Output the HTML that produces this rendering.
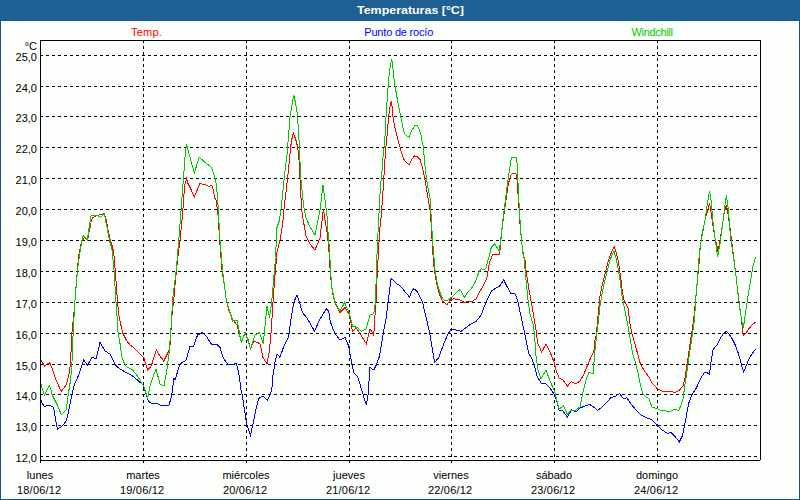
<!DOCTYPE html>
<html><head><meta charset="utf-8"><style>
html,body{margin:0;padding:0;}
body{width:800px;height:500px;overflow:hidden;position:relative;background:#fcfefc;font-family:"Liberation Sans",sans-serif;}
#hdr{position:absolute;left:0;top:0;width:800px;height:20px;background:#1e5f94;}
#hdr2{position:absolute;left:0;top:20px;width:800px;height:1px;background:#125a92;}
#bl{position:absolute;left:0;top:20px;width:1px;height:480px;background:#0b5591;}
#br{position:absolute;left:799px;top:20px;width:1px;height:480px;background:#0b5591;}
#bb{position:absolute;left:0;top:499px;width:800px;height:1px;background:#0b5591;}
#wl{position:absolute;left:1px;top:21px;width:1px;height:478px;background:#fff;}
#wr{position:absolute;left:798px;top:21px;width:1px;height:478px;background:#fff;}
#wb{position:absolute;left:1px;top:498px;width:798px;height:1px;background:#fff;}
#wt{position:absolute;left:1px;top:21px;width:798px;height:1px;background:#fff;}
#title{position:absolute;left:0;top:3px;width:821px;text-align:center;color:#fff;font-weight:bold;font-size:11px;line-height:14px;transform:scaleX(1.13);transform-origin:410.5px 0;}
.lg{position:absolute;top:26px;font-size:11px;line-height:13px;white-space:nowrap;}
.yl{position:absolute;left:0;width:37px;text-align:right;font-size:11px;line-height:9px;color:#000;white-space:nowrap;}
.xl{position:absolute;width:80px;text-align:center;font-size:11px;line-height:13px;color:#000;white-space:nowrap;}
svg{position:absolute;left:0;top:0;}
</style></head><body>
<div id="hdr"></div><div id="hdr2"></div><div id="bl"></div><div id="br"></div><div id="bb"></div><div id="wl"></div><div id="wt"></div><div id="wr"></div><div id="wb"></div>
<div id="title">Temperaturas [°C]</div>
<div class="lg" style="left:131px;color:#ff0000;letter-spacing:0.2px">Temp.</div>
<div class="lg" style="left:364.3px;color:#0000ff;letter-spacing:-0.2px">Punto de rocío</div>
<div class="lg" style="left:631.5px;color:#00c800;letter-spacing:-0.33px">Windchill</div>
<div class="yl" style="top:42px">°C</div>
<div class="yl" style="top:53px">25,0</div><div class="yl" style="top:84px">24,0</div><div class="yl" style="top:114px">23,0</div><div class="yl" style="top:145px">22,0</div><div class="yl" style="top:176px">21,0</div><div class="yl" style="top:207px">20,0</div><div class="yl" style="top:238px">19,0</div><div class="yl" style="top:269px">18,0</div><div class="yl" style="top:300px">17,0</div><div class="yl" style="top:331px">16,0</div><div class="yl" style="top:362px">15,0</div><div class="yl" style="top:392px">14,0</div><div class="yl" style="top:423px">13,0</div><div class="yl" style="top:454px">12,0</div>
<div class="xl" style="left:0px;top:469px">lunes</div><div class="xl" style="left:-0.7999999999999972px;top:484px;letter-spacing:0.2px">18/06/12</div><div class="xl" style="left:103px;top:469px">martes</div><div class="xl" style="left:102.2px;top:484px;letter-spacing:0.2px">19/06/12</div><div class="xl" style="left:206px;top:469px">miércoles</div><div class="xl" style="left:205.2px;top:484px;letter-spacing:0.2px">20/06/12</div><div class="xl" style="left:309px;top:469px">jueves</div><div class="xl" style="left:308.2px;top:484px;letter-spacing:0.2px">21/06/12</div><div class="xl" style="left:411px;top:469px">viernes</div><div class="xl" style="left:410.2px;top:484px;letter-spacing:0.2px">22/06/12</div><div class="xl" style="left:514px;top:469px">sábado</div><div class="xl" style="left:513.2px;top:484px;letter-spacing:0.2px">23/06/12</div><div class="xl" style="left:617px;top:469px">domingo</div><div class="xl" style="left:616.2px;top:484px;letter-spacing:0.2px">24/06/12</div>
<svg width="800" height="500" viewBox="0 0 800 500" shape-rendering="crispEdges">
<path d="M40 55.5H760M40 86.5H760M40 116.5H760M40 147.5H760M40 178.5H760M40 209.5H760M40 240.5H760M40 271.5H760M40 302.5H760M40 333.5H760M40 364.5H760M40 394.5H760M40 425.5H760M40 456.5H760M143.5 40V460M246.5 40V460M349.5 40V460M451.5 40V460M554.5 40V460M657.5 40V460" stroke="#000" stroke-width="1" stroke-dasharray="3 3" fill="none"/>
<g fill="#000"><rect x="143" y="460" width="1" height="3"/><rect x="246" y="460" width="1" height="3"/><rect x="349" y="460" width="1" height="3"/><rect x="451" y="460" width="1" height="3"/><rect x="554" y="460" width="1" height="3"/><rect x="657" y="460" width="1" height="3"/></g>
<g fill="none" stroke-width="1" shape-rendering="crispEdges">
<polyline stroke="#ff0000" points="40.00,358.75 44.50,366.00 49.50,362.50 52.50,369.00 56.00,380.00 61.30,391.40 65.80,385.40 67.60,380.00 69.50,372.50 70.50,362.50 72.00,332.50 73.75,315.00 75.00,300.00 77.00,275.00 78.75,255.00 81.25,242.50 83.20,239.40 84.00,237.80 85.60,238.20 87.60,240.20 89.20,231.40 90.40,225.80 91.60,219.40 93.20,217.40 95.60,216.20 97.60,215.40 104.00,213.80 105.60,217.00 106.80,223.40 108.00,229.80 109.20,235.40 110.80,241.80 111.25,242.50 113.75,252.50 115.00,267.50 117.00,295.00 118.75,315.00 122.50,332.50 126.25,340.00 130.00,345.00 133.75,347.50 138.75,352.50 143.75,357.50 147.50,370.00 151.25,366.00 156.25,350.00 160.00,356.00 163.75,361.00 168.75,351.00 170.00,345.00 172.00,315.00 173.75,300.00 175.00,285.00 177.50,260.00 180.00,240.00 182.50,215.00 184.70,185.00 186.50,179.00 188.00,183.50 191.00,189.50 194.30,197.00 200.00,183.50 206.00,185.00 209.00,186.50 211.70,185.00 213.50,191.00 215.00,198.50 216.25,200.00 218.00,215.00 220.00,245.00 222.00,270.00 225.00,290.00 226.25,300.00 228.75,310.00 232.50,319.00 237.00,325.00 238.75,332.50 241.25,341.25 245.00,333.75 247.50,337.50 250.50,348.75 253.75,341.25 257.50,342.50 260.00,343.75 263.00,357.50 267.00,363.75 269.50,350.00 271.25,330.00 273.00,302.00 275.00,275.00 277.00,252.50 280.00,240.00 282.50,225.00 284.40,205.00 286.00,192.20 287.60,177.80 289.20,161.80 290.80,145.80 292.40,136.20 293.20,133.00 294.80,137.00 296.20,141.00 297.60,147.00 298.40,152.00 299.20,162.00 300.00,178.00 300.80,194.00 301.60,208.40 302.20,214.00 306.00,236.00 310.00,244.00 315.00,250.00 320.00,238.00 323.40,209.00 326.00,226.00 327.60,236.00 329.00,252.00 330.00,268.00 331.25,282.50 333.00,295.00 335.00,302.50 340.00,312.50 345.00,307.50 349.50,315.00 352.50,331.25 356.25,327.50 360.00,333.75 366.25,343.75 370.00,328.75 373.75,335.00 375.00,315.00 376.00,302.00 376.90,280.80 377.50,268.00 378.50,252.00 379.10,240.80 379.60,229.60 380.70,221.60 381.60,210.40 382.40,200.80 383.20,188.00 384.00,175.20 384.80,162.40 385.60,149.60 386.60,141.00 387.20,133.40 388.10,122.60 389.40,110.00 390.40,104.60 391.20,101.90 391.70,102.80 392.90,116.00 394.70,126.80 396.50,134.00 398.30,141.20 400.10,147.50 401.90,153.80 403.70,159.20 406.40,162.80 409.10,164.60 411.80,159.20 414.50,155.90 417.20,156.50 419.90,159.20 421.70,165.50 422.50,167.50 425.00,180.00 427.50,195.00 430.00,210.00 431.25,225.00 432.50,247.50 433.75,265.00 435.50,277.50 438.75,292.50 442.50,301.25 447.00,304.50 450.50,300.00 453.75,298.75 460.00,300.00 464.50,302.50 468.75,301.25 472.50,301.25 476.25,298.75 480.00,291.25 483.75,285.00 487.00,277.50 489.50,262.50 492.50,255.00 496.25,254.00 499.30,254.50 500.40,246.80 501.50,233.60 503.70,216.00 505.90,200.60 508.10,185.20 510.30,176.40 512.50,173.10 515.80,173.10 516.90,178.60 518.00,194.00 519.10,209.40 520.20,227.00 521.96,244.60 523.50,255.60 525.00,260.00 526.00,270.00 529.00,290.00 532.00,306.00 535.00,324.00 536.00,330.00 537.50,342.50 541.60,352.00 546.00,344.00 550.00,352.00 554.00,362.00 556.00,370.00 559.00,378.00 563.00,380.00 567.40,386.00 571.60,381.60 576.00,384.00 580.00,381.00 584.00,374.00 588.00,364.00 592.00,355.00 593.75,352.00 595.00,340.00 596.25,335.00 598.00,316.00 600.00,296.00 602.00,286.00 604.00,278.00 606.00,270.00 608.00,262.00 610.00,256.00 612.00,251.00 614.40,247.00 616.00,252.00 618.00,260.00 619.60,270.00 621.00,280.00 622.40,292.00 624.00,300.00 626.00,304.00 628.00,308.00 630.00,324.00 632.00,334.00 635.00,344.00 637.30,352.60 640.50,364.20 644.70,371.50 648.90,376.80 652.00,383.00 657.30,388.70 661.50,391.00 670.90,391.50 675.10,392.50 679.30,390.40 680.00,389.60 683.20,385.60 684.80,379.20 693.60,320.00 695.60,300.00 697.60,278.00 699.00,264.00 700.00,250.00 702.00,234.00 705.00,220.00 708.00,209.00 709.60,203.00 711.00,212.00 713.00,226.00 715.00,238.00 717.00,246.00 718.00,252.00 720.00,240.00 722.00,228.00 724.00,214.00 726.40,205.00 728.00,214.00 730.00,228.00 732.00,244.00 734.00,260.00 735.60,272.00 737.60,290.00 739.60,306.00 741.60,320.00 742.60,332.00 743.50,335.40 746.20,332.60 749.20,328.40 752.80,324.20 755.70,322.30"/>
<polyline stroke="#0000ff" points="40.00,400.00 41.00,400.40 42.40,404.00 44.60,406.40 47.20,405.40 49.60,405.40 53.00,406.60 54.40,411.20 55.60,419.60 57.40,429.20 59.20,428.00 61.60,426.80 65.80,421.40 67.60,416.00 69.40,407.60 71.80,395.00 74.20,384.80 78.75,375.00 83.75,360.00 87.50,365.00 92.00,357.50 96.25,358.75 100.00,342.50 105.00,351.00 110.00,354.00 116.25,366.00 120.00,369.00 126.25,372.50 132.50,376.00 137.50,380.00 143.00,385.00 145.00,391.00 148.40,401.00 152.00,404.00 156.00,403.00 160.00,405.00 165.00,406.00 169.00,405.00 171.60,396.00 174.00,378.00 175.00,380.00 180.00,364.00 186.25,360.00 190.00,346.00 193.75,346.00 197.50,335.00 202.50,332.50 206.25,336.00 211.25,344.00 216.25,344.00 220.00,347.50 223.75,359.00 228.75,365.00 233.75,364.00 236.25,363.75 238.75,372.50 241.00,390.00 242.10,394.40 243.80,405.40 245.40,415.30 246.50,423.00 248.20,428.50 250.40,435.20 252.00,428.50 253.70,420.80 256.40,407.60 258.60,398.80 262.00,396.00 264.10,397.20 267.40,400.50 268.50,397.70 270.20,394.40 271.80,390.00 273.00,375.00 275.00,362.50 277.00,353.75 280.00,357.50 283.75,346.25 288.75,336.25 290.50,322.50 293.75,302.50 297.00,295.00 299.50,302.50 302.50,312.50 307.50,318.75 314.50,331.25 319.50,320.00 322.00,316.00 326.30,308.80 328.70,311.20 330.40,322.00 335.00,333.75 340.00,340.00 345.00,337.50 348.75,346.25 352.00,365.00 353.75,372.50 357.50,376.25 362.50,392.50 366.25,405.00 368.00,395.00 370.00,367.50 373.75,370.00 376.25,365.00 379.50,356.25 382.50,337.50 386.25,317.50 388.00,302.00 389.50,292.00 390.50,282.00 391.20,278.50 394.00,281.00 397.00,284.00 399.00,285.00 402.00,288.00 406.00,293.00 409.50,297.00 412.00,291.00 413.50,289.00 416.50,290.50 419.00,295.00 421.50,300.00 423.00,304.00 424.50,311.00 426.25,317.50 430.00,335.00 432.50,350.00 434.50,362.50 438.75,357.50 443.75,343.75 447.50,335.00 451.25,328.75 456.25,330.00 461.25,331.25 466.25,327.50 471.25,323.75 476.25,321.25 481.25,315.00 486.25,301.25 491.25,291.25 495.00,288.75 499.50,286.25 503.75,280.00 507.50,287.50 511.25,293.75 515.00,293.75 517.50,300.00 521.25,317.50 524.50,332.50 527.50,347.50 529.00,354.00 531.25,357.50 534.00,364.00 537.00,376.00 541.00,383.00 546.00,384.00 550.00,388.00 554.00,394.00 557.00,402.00 559.00,410.00 563.00,411.00 567.40,417.00 571.60,410.00 576.00,412.00 580.00,408.00 585.00,406.00 589.60,404.40 594.00,407.40 597.60,410.40 602.00,407.00 607.00,402.00 611.00,397.60 615.30,396.30 619.50,393.60 623.70,398.80 626.80,397.80 631.00,404.00 636.30,410.40 641.50,415.20 647.80,418.20 652.00,419.80 657.30,425.70 662.50,430.30 667.80,433.50 670.90,432.40 675.10,436.60 679.30,441.90 682.50,435.60 685.60,419.80 688.80,403.00 691.90,394.60 696.10,388.30 701.20,377.60 704.60,372.20 707.20,372.80 709.40,374.00 711.40,359.60 713.20,349.40 716.80,345.20 720.40,338.00 723.40,333.80 726.40,331.40 729.40,334.40 732.40,339.20 735.40,345.20 738.40,353.60 740.80,362.00 743.50,372.20 745.00,369.20 747.40,362.60 751.00,355.40 753.40,351.80 755.80,348.80"/>
<polyline stroke="#00c800" points="40.00,381.00 44.30,395.00 49.60,385.40 52.60,395.60 57.40,405.20 61.40,414.80 66.40,409.40 68.20,394.40 70.60,380.00 72.00,362.00 73.25,330.00 75.00,300.00 77.50,270.00 80.00,252.50 82.40,237.80 83.60,235.40 85.60,237.80 87.60,240.20 88.40,231.40 89.60,225.80 90.40,219.40 91.20,215.40 97.20,215.20 100.40,217.40 102.40,215.40 104.40,213.40 104.80,215.40 106.00,222.60 107.20,228.20 108.40,235.40 109.60,241.00 112.00,250.00 114.00,270.00 115.00,286.00 116.00,302.00 117.00,316.00 117.40,322.00 118.00,332.40 120.40,345.60 121.60,356.40 124.00,362.40 126.40,366.60 130.00,368.40 132.50,370.00 137.50,376.00 141.00,382.00 144.00,387.00 146.00,393.00 147.60,398.00 150.00,386.00 153.00,377.00 156.00,369.00 160.00,384.00 164.00,386.00 167.00,369.00 169.00,354.00 170.40,336.00 171.60,320.00 172.50,300.00 176.25,270.00 178.75,240.00 181.25,207.50 184.20,168.50 185.30,152.70 186.50,144.50 187.70,149.00 191.00,161.00 194.30,173.00 199.20,157.20 205.20,162.50 211.20,167.00 213.50,173.00 215.70,180.50 217.20,194.00 218.00,205.00 220.00,240.00 222.50,270.00 225.00,290.00 226.25,300.00 230.00,312.00 232.50,321.25 237.00,320.00 238.75,328.75 241.25,342.50 245.00,332.50 247.50,338.75 250.50,348.75 255.00,335.00 259.50,332.50 263.25,343.75 267.00,306.25 269.50,317.50 271.25,305.00 272.00,298.00 274.50,270.00 275.50,257.50 277.00,227.50 279.50,220.00 281.25,207.50 283.00,190.00 284.50,175.00 287.00,155.00 290.00,117.50 292.00,105.00 293.75,95.00 295.50,102.50 297.50,115.00 298.40,130.00 299.20,142.80 300.00,162.00 300.80,178.00 302.40,194.00 304.00,208.40 306.00,218.00 310.00,227.00 315.00,235.00 320.00,210.00 323.00,185.00 325.00,200.00 327.00,216.00 328.00,232.00 329.00,244.00 330.00,260.00 331.00,276.00 331.25,285.00 334.50,300.00 336.25,305.00 340.00,311.25 344.50,302.50 348.75,311.25 352.50,326.25 357.50,327.50 361.25,331.25 366.25,328.75 370.00,315.00 373.75,313.75 375.00,305.00 375.60,300.00 375.90,287.20 376.40,272.80 376.90,260.00 377.20,244.00 378.00,232.80 378.50,220.00 379.20,210.40 380.00,194.40 380.80,183.20 381.60,175.20 382.40,167.20 383.20,154.40 384.30,146.00 384.90,138.00 385.40,128.00 386.30,111.80 387.20,99.20 388.10,86.60 389.00,75.80 389.90,68.60 390.80,63.20 391.70,58.70 392.60,65.00 393.50,74.00 394.40,83.00 395.60,89.00 397.40,99.80 399.20,108.80 401.00,117.80 402.80,126.80 404.20,133.00 406.40,135.80 409.10,137.20 411.80,130.40 414.50,125.90 417.20,125.90 419.00,128.60 420.80,134.00 421.70,139.40 423.00,145.00 424.50,160.00 425.50,172.00 427.50,185.00 430.00,197.50 431.25,217.50 432.50,240.00 433.75,255.00 435.00,270.00 437.50,285.00 441.25,296.25 443.75,300.00 447.50,300.50 451.25,297.50 455.00,293.75 459.50,290.00 461.25,291.25 464.50,297.50 467.50,292.50 471.25,288.75 475.00,282.50 478.75,272.50 481.25,268.75 483.75,270.00 486.25,267.50 488.75,257.50 489.50,255.00 491.25,247.50 494.50,243.75 499.30,251.20 500.40,242.40 502.60,222.60 504.80,205.00 507.00,187.40 509.20,172.00 511.40,157.70 516.20,157.70 517.30,165.40 518.00,183.00 519.10,205.00 520.20,222.60 521.30,238.00 522.80,253.40 524.00,258.00 526.00,280.00 528.00,300.00 530.00,314.00 533.00,324.00 534.40,334.00 535.60,350.00 536.00,356.00 538.00,370.00 541.00,379.00 546.00,370.00 550.00,381.00 554.00,390.00 555.60,395.00 559.00,409.00 563.60,406.00 567.40,414.40 571.00,410.00 576.00,410.00 580.00,407.00 583.00,392.00 586.00,380.00 589.00,372.00 593.00,374.00 595.00,350.00 598.00,324.00 600.00,306.00 602.00,294.00 604.00,284.00 606.00,276.00 608.00,268.00 610.00,260.00 612.00,255.00 614.00,251.00 616.00,258.00 618.00,268.00 620.00,280.00 622.00,296.00 624.00,306.00 626.00,316.00 627.60,324.00 629.00,332.00 631.00,344.00 633.00,355.00 636.30,365.20 639.40,380.00 642.60,393.60 645.70,396.70 648.90,398.80 652.00,407.20 656.20,408.30 660.40,410.40 669.90,411.40 674.10,409.30 678.90,410.40 682.90,400.00 684.60,387.20 694.50,320.00 695.60,300.00 697.60,277.00 699.60,250.00 702.00,236.00 705.00,220.00 707.60,202.00 709.60,191.00 711.00,200.00 713.00,222.00 715.00,238.00 717.60,257.00 720.00,244.00 722.40,226.00 724.40,210.00 726.40,195.00 728.40,210.00 730.40,236.00 732.40,250.00 734.40,264.00 736.00,276.00 738.00,294.00 740.00,310.00 742.00,322.00 743.40,328.00 745.60,312.00 748.00,296.00 751.00,278.00 753.00,266.00 755.70,257.00"/>
</g>
<g fill="#000"><rect x="40" y="40" width="721" height="1"/><rect x="40" y="40" width="1" height="423"/><rect x="40" y="460" width="720" height="1"/><rect x="760" y="40" width="1" height="420"/></g>
</svg>
</body></html>
